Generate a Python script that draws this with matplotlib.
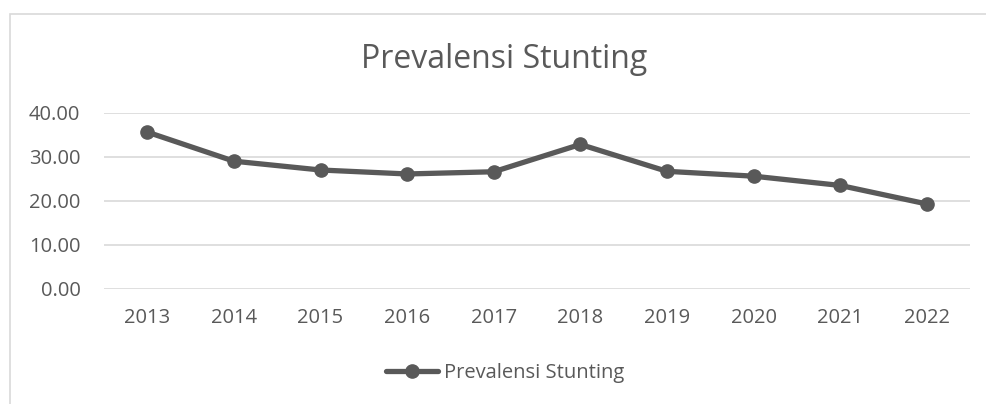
import matplotlib
matplotlib.use("Agg")
import matplotlib.pyplot as plt
from matplotlib.patches import Rectangle

years = ["2013", "2014", "2015", "2016", "2017", "2018", "2019", "2020", "2021", "2022"]
prevalence = [35.6, 29.0, 27.0, 26.1, 26.6, 32.8, 26.7, 25.6, 23.5, 19.3]
y_ticks = [0, 10, 20, 30, 40]

TEXT = "#595959"
GRID = "#d9d9d9"

plt.rcParams["font.family"] = ["Open Sans", "DejaVu Sans"]

fig = plt.figure(figsize=(9.86, 4.04), dpi=100)
fig.patches.append(Rectangle((9.5 / 986, -0.01), 1.0, (404 - 14) / 404 + 0.01,
                             transform=fig.transFigure, fill=False,
                             edgecolor=GRID, linewidth=1.2))

ax = fig.add_axes([104 / 986, (404 - 289) / 404, (970 - 104) / 986, (289 - 112.7) / 404])
x = range(len(years))
ax.plot(x, prevalence, color=TEXT, linewidth=3.8, marker="o", markersize=9.5,
        label="Prevalensi Stunting", solid_capstyle="round")
ax.set_xlim(-0.5, len(years) - 0.5)
ax.set_ylim(0, 40)
ax.set_yticks(y_ticks)
ax.set_yticklabels([f"{v:.2f}" for v in y_ticks])
ax.set_xticks(list(x))
ax.set_xticklabels(years)
ax.tick_params(axis="both", length=0, labelsize=14.5, colors=TEXT)
ax.tick_params(axis="x", pad=14)
ax.tick_params(axis="y", pad=17)
ax.grid(axis="y", color=GRID, linewidth=1.2)
ax.set_axisbelow(True)
for spine in ax.spines.values():
    spine.set_visible(False)

fig.text(504 / 986, (404 - 60) / 404, "Prevalensi Stunting", ha="center", va="center",
         fontsize=23, color=TEXT)
fig.legend(loc="center", bbox_to_anchor=(505 / 986, (404 - 373) / 404), frameon=False,
           fontsize=14.5, labelcolor=TEXT, handlelength=2.6, handletextpad=0.3)

fig.savefig("out.png", dpi=100)
